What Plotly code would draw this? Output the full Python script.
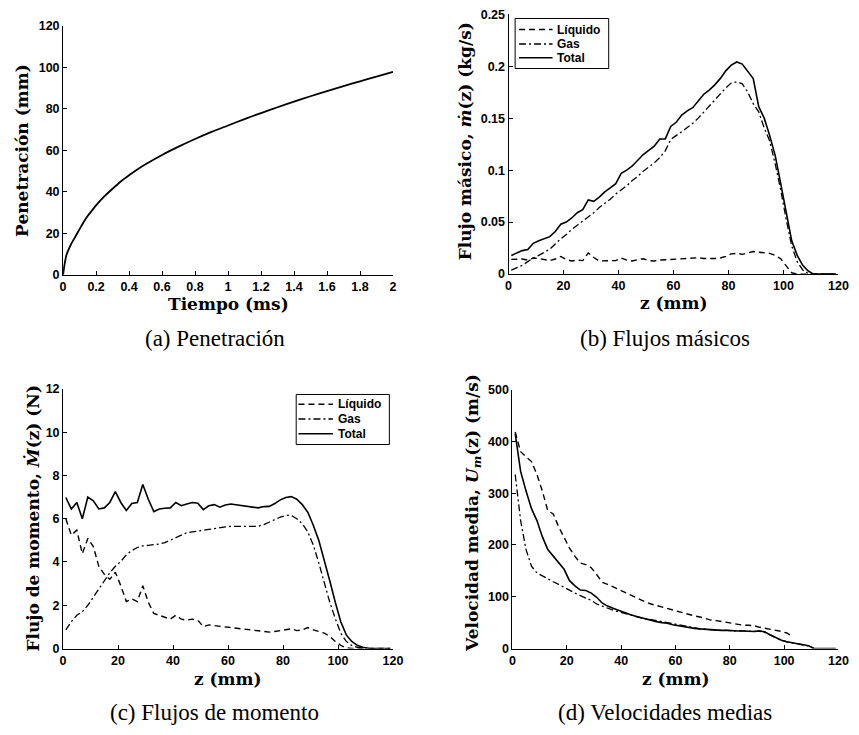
import plotly.graph_objects as go

# ---------------- data ----------------
# (a) spray tip penetration vs time
tiempo_ms = [0, 0.005, 0.01, 0.02, 0.03, 0.05, 0.075, 0.1, 0.125, 0.15, 0.175, 0.2, 0.25,
             0.3, 0.35, 0.4, 0.45, 0.5, 0.6, 0.7, 0.8, 0.9, 1.0, 1.1, 1.2, 1.3, 1.4,
             1.5, 1.6, 1.7, 1.8, 1.9, 2.0]
penetracion_mm = [0, 3, 5.5, 9.4, 11.5, 15, 18.5, 22, 25.5, 28.5, 31, 33.5, 37.8,
                  41.5, 45, 48, 50.8, 53.3, 57.8, 61.8, 65.5, 68.9, 72, 75.1, 78, 80.8, 83.5,
                  86.1, 88.6, 91, 93.3, 95.6, 97.8]

# axial stations (mm) shared by panels b, c, d
z_mm = list(range(1, 120, 2))

# (b) mass flux (kg/s)
masico_liquido = [0.0142, 0.0145, 0.0145, 0.0135, 0.0155, 0.0150, 0.0140, 0.013, 0.0145, 0.017,
                  0.014, 0.0126, 0.0135, 0.013, 0.0204, 0.016, 0.0126, 0.013, 0.013, 0.013,
                  0.0155, 0.0135, 0.0126, 0.0140, 0.0148, 0.0130, 0.0126, 0.0135, 0.0138, 0.0140,
                  0.0148, 0.0150, 0.0155, 0.0157, 0.0157, 0.0150, 0.0148, 0.0150, 0.0155, 0.017,
                  0.0195, 0.020, 0.019, 0.020, 0.0217, 0.021, 0.0204, 0.020, 0.018, 0.0148,
                  0.0079, 0.0013, 0, 0, 0, 0, 0, 0, 0, 0]
masico_gas = [0.0038, 0.006, 0.0085, 0.012, 0.0155, 0.018, 0.021, 0.024, 0.029, 0.034,
              0.038, 0.043, 0.047, 0.051, 0.055, 0.059, 0.064, 0.068, 0.072, 0.077,
              0.081, 0.085, 0.090, 0.094, 0.099, 0.103, 0.107, 0.112, 0.1185, 0.1296,
              0.133, 0.137, 0.141, 0.145, 0.150, 0.156, 0.161, 0.167, 0.173, 0.179,
              0.1837, 0.185, 0.183, 0.175, 0.164, 0.156, 0.1405, 0.128, 0.106, 0.081,
              0.0525, 0.027, 0.012, 0.004, 0.0006, 0, 0, 0, 0, 0]
masico_total = [0.018, 0.020, 0.0226, 0.0236, 0.0296, 0.032, 0.034, 0.036, 0.041, 0.048,
                0.050, 0.054, 0.059, 0.062, 0.0714, 0.070, 0.074, 0.079, 0.083, 0.087,
                0.097, 0.100, 0.104, 0.110, 0.115, 0.119, 0.123, 0.130, 0.130, 0.142,
                0.146, 0.153, 0.157, 0.160, 0.166, 0.173, 0.177, 0.182, 0.188, 0.1955,
                0.201, 0.204, 0.202, 0.1955, 0.188, 0.161, 0.150, 0.133, 0.114, 0.087,
                0.059, 0.032, 0.018, 0.0085, 0.003, 0, 0, 0, 0, 0]

# (c) momentum flux (N)
momento_liquido = [6.0, 5.24, 5.47, 4.38, 5.09, 4.71, 3.8, 3.43, 3.2, 3.53,
                   2.9, 2.17, 2.3, 2.17, 2.9, 2.14, 1.62, 1.54, 1.47, 1.36,
                   1.54, 1.36, 1.31, 1.36, 1.31, 1.01, 1.09, 1.06, 1.01, 0.98,
                   0.98, 0.94, 0.91, 0.89, 0.86, 0.82, 0.79, 0.76, 0.79, 0.83,
                   0.86, 0.91, 0.83, 0.86, 0.97, 0.86, 0.79, 0.71, 0.56, 0.33,
                   0.15, 0.03, 0, 0, 0, 0, 0, 0, 0, 0]
momento_gas = [0.86, 1.24, 1.54, 1.7, 2.0, 2.37, 2.75, 3.13, 3.5, 3.8,
               4.03, 4.33, 4.53, 4.67, 4.74, 4.77, 4.79, 4.83, 4.9, 5.02,
               5.14, 5.24, 5.35, 5.39, 5.44, 5.47, 5.51, 5.54, 5.59, 5.62,
               5.65, 5.65, 5.65, 5.62, 5.62, 5.65, 5.73, 5.85, 5.95, 6.07,
               6.15, 6.15, 6.0, 5.77, 5.39, 4.79, 3.96, 3.05, 2.14, 1.39,
               0.71, 0.33, 0.14, 0.06, 0.015, 0, 0, 0, 0, 0]
momento_total = [6.98, 6.45, 6.75, 6.0, 7.0, 6.83, 6.45, 6.5, 6.75, 7.25,
                 6.75, 6.38, 6.7, 6.75, 7.58, 6.9, 6.33, 6.45, 6.48, 6.5,
                 6.75, 6.6, 6.68, 6.75, 6.72, 6.42, 6.6, 6.65, 6.53, 6.63,
                 6.68, 6.65, 6.6, 6.57, 6.56, 6.5, 6.56, 6.57, 6.7, 6.87,
                 6.98, 7.02, 6.9, 6.65, 6.3, 5.7, 5.0, 4.1, 3.13, 2.14,
                 1.24, 0.63, 0.33, 0.15, 0.06, 0.015, 0, 0, 0, 0]

# (d) mean velocity (m/s)
velocidad_liquido = [418, 380, 370, 361, 336, 304, 266, 260, 235, 213,
                     194, 178, 165, 162, 156, 143, 128, 124, 119, 115,
                     109, 104, 99, 94, 90, 86, 83, 80, 77, 74,
                     71, 68, 66, 63, 61, 58, 55, 54, 52, 50,
                     49, 47, 45, 45, 44, 41, 39, 38, 35, 33,
                     30, 23, None, None, None, None, None, None, None, None]
velocidad_gas = [336, 247, 191, 159, 146, 140, 135, 129, 124, 118,
                 112, 107, 102, 98, 93, 86, 82, 77, 74, 71,
                 68, 66, 62, 59, 57, 56, 54, 52, 49, 47,
                 45, 43, 41, 40, 38, 37, 36, 36, 35, 35,
                 34, 34, 34, 33, 33, 33, 31, 26, 21, 16,
                 13, 11, 9, 7, 5, 0, None, None, None, None]
velocidad_total = [415, 342, 304, 270, 247, 216, 191, 178, 165, 153,
                   131, 121, 113, 112, 107, 99, 88, 82, 78, 74,
                   69, 66, 63, 60, 57, 54, 52, 50, 49, 46,
                   44, 42, 40, 39, 38, 37, 36, 36, 35, 35,
                   34, 34, 34, 33, 33, 34, 32, 26, 21, 16,
                   13, 11, 9, 7.5, 5.5, 0, 0, 0, 0, 0]

legend_labels = ["Líquido", "Gas", "Total"]

# ---------------- styling helpers ----------------
W, H = 859, 735


def fx(p):
    return p / W


def fy(p):
    return 1 - p / H


DASH = "6px,4px"
DASHDOT = "7px,3px,2px,3px"
styles = [dict(color="black", width=1.4, dash=DASH),
          dict(color="black", width=1.3, dash=DASHDOT),
          dict(color="black", width=1.6)]

tick_font = dict(family="Liberation Sans, Arial, sans-serif", size=12.5, color="black", weight="bold")
title_font = dict(family="DejaVu Serif, serif", size=17, color="black", weight="bold")
caption_font = dict(family="Liberation Serif, Times New Roman, serif", size=23, color="black")
legend_font = dict(family="Liberation Sans, Arial, sans-serif", size=12, color="black", weight="bold")


def axis(domain, anchor, rng, dtick):
    return dict(domain=domain, anchor=anchor, range=rng, dtick=dtick, tick0=0,
                showline=True, linecolor="black", linewidth=1,
                ticks="inside", ticklen=4, tickwidth=1, tickcolor="black",
                showgrid=False, zeroline=False, mirror=False, tickfont=tick_font)


fig = go.Figure()

# (a)
fig.add_trace(go.Scatter(x=tiempo_ms, y=penetracion_mm, mode="lines",
                         line=dict(color="black", width=1.8, shape="spline", smoothing=0.6),
                         xaxis="x", yaxis="y"))

# (b), (c), (d)
panels = [("x2", "y2", [masico_liquido, masico_gas, masico_total]),
          ("x3", "y3", [momento_liquido, momento_gas, momento_total]),
          ("x4", "y4", [velocidad_liquido, velocidad_gas, velocidad_total])]
for xa, ya, series in panels:
    for name, vals, st in zip(legend_labels, series, styles):
        fig.add_trace(go.Scatter(x=z_mm, y=vals, mode="lines", name=name,
                                 line=st, xaxis=xa, yaxis=ya, connectgaps=False))

fig.update_layout(
    width=W, height=H, margin=dict(l=0, r=0, t=0, b=0),
    paper_bgcolor="white", plot_bgcolor="white", showlegend=False,
    xaxis=axis([fx(61), fx(396)], "y", [0, 2], 0.2),
    yaxis=axis([fy(273), fy(19.3)], "x", [0, 120], 20),
    xaxis2=axis([fx(513.3), fx(848.3)], "y2", [0, 120], 20),
    yaxis2=axis([fy(272.3), fy(7.3)], "x2", [0, 0.25], 0.05),
    xaxis3=axis([fx(61), fx(396)], "y3", [0, 120], 20),
    yaxis3=axis([fy(654), fy(389.3)], "x3", [0, 12], 2),
    xaxis4=axis([fx(517.3), fx(848.3)], "y4", [0, 120], 20),
    yaxis4=axis([fy(654), fy(390)], "x4", [0, 500], 100),
)

annotations = []


def text(x, y, s, font, angle=0, xanchor="center"):
    annotations.append(dict(x=fx(x), y=fy(y), xref="paper", yref="paper", text=s,
                            showarrow=False, font=font, textangle=angle,
                            xanchor=xanchor, yanchor="middle"))


# axis titles
text(228.5, 303, "Tiempo (ms)", title_font)
text(681, 302, "z (mm)", title_font)
text(228.5, 685, "z (mm)", title_font)
text(683, 685, "z (mm)", title_font)
text(20, 146, "Penetración (mm)", title_font, -90)
text(470, 137, "Flujo másico, <i>ṁ</i>(z) (kg/s)", title_font, -90)
text(31, 521, "Flujo de momento, <i>Ṁ</i>(z) (N)", title_font, -90)
text(477, 516, "Velocidad media, <i>U<sub>m</sub></i>(z) (m/s)", title_font, -90)

# sub-figure captions
text(215, 338, "(a) Penetración", caption_font)
text(672, 338, "(b) Flujos másicos", caption_font)
text(215, 719, "(c) Flujos de momento", caption_font)
text(672, 719, "(d) Velocidades medias", caption_font)

# legend boxes for (b) and (c)
shapes = []


def legend_box(x0, y0, x1, y1, lx0, lx1, rows, tx):
    shapes.append(dict(type="rect", xref="paper", yref="paper",
                       x0=fx(x0), x1=fx(x1), y0=fy(y1), y1=fy(y0),
                       line=dict(color="black", width=1), fillcolor="white", layer="above"))
    for ry, label, st in zip(rows, legend_labels, styles):
        shapes.append(dict(type="line", xref="paper", yref="paper",
                           x0=fx(lx0), x1=fx(lx1), y0=fy(ry), y1=fy(ry),
                           line=st, layer="above"))
        text(tx, ry, label, legend_font, xanchor="left")


legend_box(520, 11.7, 615, 62.7, 524, 558, [23, 37.7, 51.7], 560)
legend_box(297.7, 395, 392.3, 446, 300, 335, [405, 420, 435], 338)

fig.update_layout(annotations=annotations, shapes=shapes)

fig.write_html("out.html")
